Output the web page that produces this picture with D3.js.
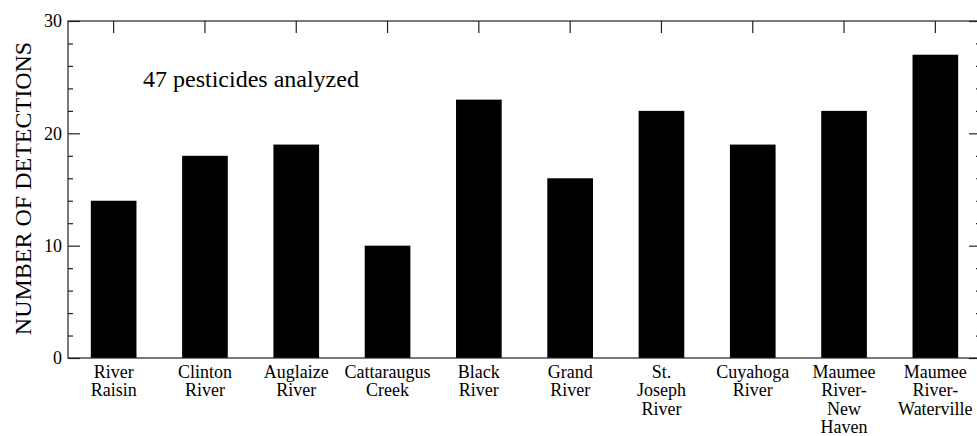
<!DOCTYPE html>
<html>
<head>
<meta charset="utf-8">
<script src="https://cdn.jsdelivr.net/npm/d3@7"></script>
<style>
  html, body { margin: 0; padding: 0; background: #fff; }
  svg { display: block; }
  svg text { font-family: "Liberation Serif", "Tinos", "Times New Roman", Times, "DejaVu Serif", serif; }
</style>
</head>
<body>
<svg id="chart" width="977" height="436"></svg>
<script>
// Sampling sites (label lines) and number of pesticides detected at each
const sites = [
  ["River", "Raisin"],
  ["Clinton", "River"],
  ["Auglaize", "River"],
  ["Cattaraugus", "Creek"],
  ["Black", "River"],
  ["Grand", "River"],
  ["St.", "Joseph", "River"],
  ["Cuyahoga", "River"],
  ["Maumee", "River-", "New", "Haven"],
  ["Maumee", "River-", "Waterville"]
];
const detections = [14, 18, 19, 10, 23, 16, 22, 19, 22, 27];
const yMajorTicks = [0, 10, 20, 30];
const yMinorTicks = d3.range(0, 31, 2);

const siteIds = sites.map(s => s.join(" "));

const svg = d3.select("#chart");
const plotLeft = 68, plotRight = 981, plotTop = 21, plotBottom = 358;

const x = d3.scaleBand()
  .domain(siteIds)
  .range([plotLeft, plotRight])
  .paddingInner(0.5)
  .paddingOuter(0.25);

const y = d3.scaleLinear()
  .domain([0, 30])
  .range([plotBottom, plotTop]);

// Bars
svg.append("g")
  .selectAll("rect")
  .data(detections)
  .join("rect")
  .attr("x", (d, i) => x(siteIds[i]))
  .attr("y", d => y(d))
  .attr("width", x.bandwidth())
  .attr("height", d => y(0) - y(d))
  .attr("fill", "#000");

const axisColor = "#222";
const styleAxis = g => {
  g.selectAll("path.domain").remove();
  g.selectAll("line").attr("stroke", axisColor).attr("stroke-width", 1.2);
};
const minorOnly = yMinorTicks.filter(v => !yMajorTicks.includes(v));

// Left axis ticks (inward), minor then major
svg.append("g").attr("transform", `translate(${plotLeft},0)`)
  .call(d3.axisRight(y).tickValues(minorOnly).tickSize(5).tickFormat(""))
  .call(styleAxis);
svg.append("g").attr("transform", `translate(${plotLeft},0)`)
  .call(d3.axisRight(y).tickValues(yMajorTicks).tickSize(12).tickFormat(""))
  .call(styleAxis);

// Left tick labels
svg.append("g").attr("transform", `translate(${plotLeft},0)`)
  .call(d3.axisLeft(y).tickValues(yMajorTicks).tickSize(0).tickPadding(6))
  .call(g => {
    g.attr("font-family", null).attr("font-size", null);
    g.selectAll("path.domain").remove();
    g.selectAll("text")
      .attr("font-size", 18)
      .attr("fill", "#000");
  });

// Right axis ticks (inward)
svg.append("g").attr("transform", `translate(${plotRight},0)`)
  .call(d3.axisLeft(y).tickValues(minorOnly).tickSize(5).tickFormat(""))
  .call(styleAxis);
svg.append("g").attr("transform", `translate(${plotRight},0)`)
  .call(d3.axisLeft(y).tickValues(yMajorTicks).tickSize(12).tickFormat(""))
  .call(styleAxis);

// Top axis ticks at each site, pointing down
svg.append("g").attr("transform", `translate(0,${plotTop})`)
  .call(d3.axisBottom(x).tickSize(12).tickFormat(""))
  .call(styleAxis);

// Frame
svg.append("rect")
  .attr("x", plotLeft).attr("y", plotTop)
  .attr("width", plotRight - plotLeft).attr("height", plotBottom - plotTop)
  .attr("fill", "none")
  .attr("stroke", axisColor)
  .attr("stroke-width", 1.2);

// Site labels under the bars
const labels = svg.append("g")
  .attr("font-size", 18)
  .attr("fill", "#000")
  .attr("text-anchor", "middle");
sites.forEach((lines, i) => {
  const cx = x(siteIds[i]) + x.bandwidth() / 2;
  const t = labels.append("text").attr("x", cx).attr("y", 378);
  lines.forEach((ln, j) => {
    t.append("tspan")
      .attr("x", cx)
      .attr("dy", j === 0 ? 0 : 18.3)
      .text(ln);
  });
});

// Y axis title
svg.append("text")
  .attr("transform", `translate(31,${(plotTop + plotBottom) / 2 - 1}) rotate(-90)`)
  .attr("text-anchor", "middle")
  .attr("font-size", 24)
  .attr("fill", "#000")
  .text("NUMBER OF DETECTIONS");

// Annotation
svg.append("text")
  .attr("x", 143)
  .attr("y", 87)
  .attr("font-size", 24)
  .attr("fill", "#000")
  .text("47 pesticides analyzed");
</script>
</body>
</html>
